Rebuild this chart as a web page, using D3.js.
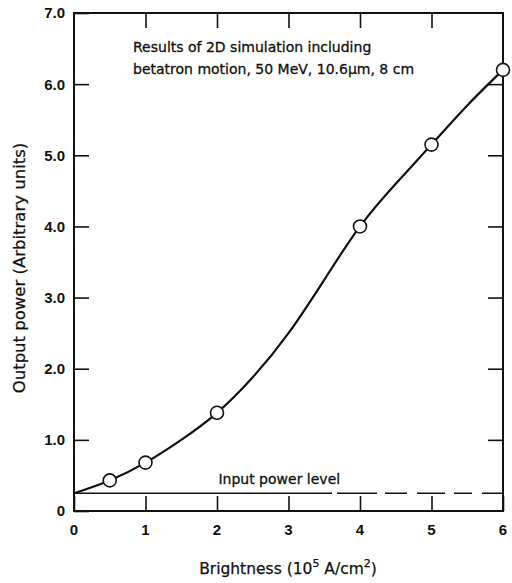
<!DOCTYPE html>
<html>
<head>
<meta charset="utf-8">
<script src="https://cdn.jsdelivr.net/npm/d3@7"></script>
<style>
  body { margin: 0; background: #fff; }
  svg { display: block; font-family: "DejaVu Sans", sans-serif; }
  .tick-label { font-family: "Liberation Sans", Arial, sans-serif; font-size: 15px; font-weight: bold; fill: #111; }
  .axis-label { fill: #111; stroke: #111; stroke-width: 0.25; }
  .note { font-size: 14px; fill: #111; stroke: #111; stroke-width: 0.3; }
</style>
<script>
// measured points (open circles)
const brightness = [0.5, 1, 2, 4, 5, 6];
const outputPower = [0.43, 0.68, 1.38, 4.0, 5.15, 6.2];

// hand-drawn curve
const curveX = [0, 0.5, 1, 1.5, 2, 2.5, 3, 3.5, 4, 4.5, 5, 5.5, 6];
const curveY = [0.25, 0.43, 0.68, 1.0, 1.38, 1.88, 2.5, 3.25, 4.0, 4.6, 5.15, 5.7, 6.2];

const inputLevel = 0.25;

const xTicks = [0, 1, 2, 3, 4, 5, 6];
const xTickLabels = ["0", "1", "2", "3", "4", "5", "6"];
const yTicks = [0, 1, 2, 3, 4, 5, 6, 7];
const yTickLabels = ["0", "1.0", "2.0", "3.0", "4.0", "5.0", "6.0", "7.0"];

const noteLines = [
    "Results of 2D simulation including",
    "betatron motion, 50 MeV, 10.6\u03bcm, 8 cm"
];

const render = () => {
    const svg = d3.select('#chart');
    const margin = { top: 13, right: 9, bottom: 72, left: 74 };
    const width = +svg.attr('width');
    const height = +svg.attr('height');
    const innerWidth = width - margin.left - margin.right;
    const innerHeight = height - margin.top - margin.bottom;

    const xScale = d3.scaleLinear().domain([0, 6]).range([0, innerWidth]);
    const yScale = d3.scaleLinear().domain([0, 7]).range([innerHeight, 0]);

    const g = svg.append('g')
        .attr('transform', `translate(${margin.left},${margin.top})`);

    const tickLen = 15;

    // inward ticks on all four sides
    const bottomAxis = d3.axisBottom(xScale).tickValues(xTicks).tickSize(-tickLen);
    const topAxis = d3.axisTop(xScale).tickValues(xTicks.slice(1, -1)).tickSize(-tickLen);
    const leftAxis = d3.axisLeft(yScale).tickValues(yTicks).tickSize(-tickLen);
    const rightAxis = d3.axisRight(yScale).tickValues(yTicks.slice(1, -1)).tickSize(-tickLen);

    [
        [bottomAxis, `translate(0,${innerHeight})`],
        [topAxis, 'translate(0,0)'],
        [leftAxis, 'translate(0,0)'],
        [rightAxis, `translate(${innerWidth},0)`]
    ].forEach(([ax, tr]) => {
        const a = g.append('g').attr('transform', tr).call(ax);
        a.select('.domain').remove();
        a.selectAll('text').remove();
        a.selectAll('line').attr('stroke', '#111').attr('stroke-width', 1.6);
    });

    g.append('rect')
        .attr('width', innerWidth)
        .attr('height', innerHeight)
        .attr('fill', 'none')
        .attr('stroke', '#111')
        .attr('stroke-width', 2);

    // tick labels
    g.selectAll('.xlab').data(xTicks).enter().append('text')
        .attr('class', 'tick-label')
        .attr('x', d => xScale(d))
        .attr('y', innerHeight + 24)
        .attr('text-anchor', 'middle')
        .text((d, i) => xTickLabels[i]);

    g.selectAll('.ylab').data(yTicks).enter().append('text')
        .attr('class', 'tick-label')
        .attr('x', -9)
        .attr('y', d => yScale(d))
        .attr('dy', '0.36em')
        .attr('text-anchor', 'end')
        .text((d, i) => yTickLabels[i]);

    // axis titles
    const xTitle = svg.append('text')
        .attr('class', 'axis-label')
        .attr('font-size', 15.5)
        .attr('x', 288)
        .attr('y', 574)
        .attr('text-anchor', 'middle');
    xTitle.append('tspan').text('Brightness (10');
    xTitle.append('tspan').attr('dy', -7).attr('font-size', 11).text('5');
    xTitle.append('tspan').attr('dy', 7).text(' A/cm');
    xTitle.append('tspan').attr('dy', -7).attr('font-size', 11).text('2');
    xTitle.append('tspan').attr('dy', 7).text(')');

    svg.append('text')
        .attr('class', 'axis-label')
        .attr('font-size', 16.5)
        .attr('transform', 'translate(25,268) rotate(-90)')
        .attr('text-anchor', 'middle')
        .text('Output power (Arbitrary units)');

    // input power level line
    g.append('line')
        .attr('x1', 0)
        .attr('x2', innerWidth)
        .attr('y1', yScale(inputLevel))
        .attr('y2', yScale(inputLevel))
        .attr('stroke', '#111')
        .attr('stroke-width', 1.4)
        .attr('stroke-dasharray', '258,5,40,8,22,10,28,9,18,10,30');

    g.append('text')
        .attr('class', 'note')
        .attr('x', xScale(2.02))
        .attr('y', yScale(inputLevel) - 9)
        .text('Input power level');

    // curve
    const line = d3.line()
        .x(d => xScale(d[0]))
        .y(d => yScale(d[1]))
        .curve(d3.curveNatural);

    g.append('path')
        .datum(curveX.map((x, i) => [x, curveY[i]]))
        .attr('d', line)
        .attr('fill', 'none')
        .attr('stroke', '#111')
        .attr('stroke-width', 2.2);

    g.selectAll('circle').data(brightness).enter().append('circle')
        .attr('cx', d => xScale(d))
        .attr('cy', (d, i) => yScale(outputPower[i]))
        .attr('r', 6.5)
        .attr('fill', '#fff')
        .attr('stroke', '#111')
        .attr('stroke-width', 1.6);

    // annotation
    g.selectAll('.note-line').data(noteLines).enter().append('text')
        .attr('class', 'note')
        .attr('x', 59)
        .attr('y', (d, i) => 39 + i * 22)
        .text(d => d);
};

window.addEventListener('DOMContentLoaded', render);
</script>
</head>
<body>
<svg id="chart" width="512" height="583"></svg>
</body>
</html>
